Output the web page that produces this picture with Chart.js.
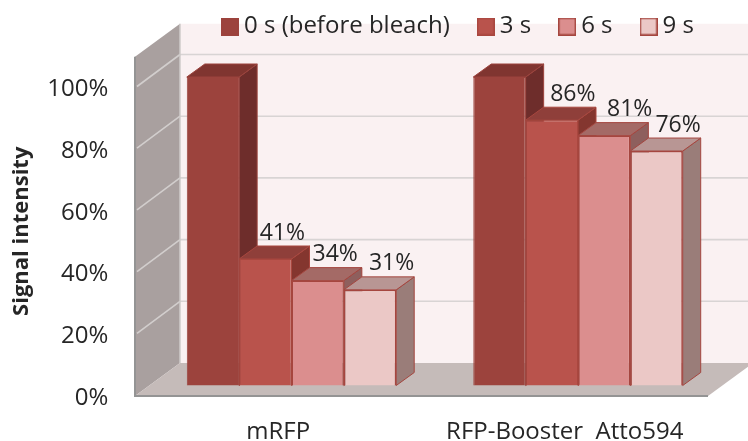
<!DOCTYPE html>
<html>
<head>
<meta charset="utf-8">
<style>html,body{margin:0;padding:0;background:#fff}canvas{display:block}</style>
<script src="https://cdn.jsdelivr.net/npm/chart.js@4/dist/chart.umd.min.js"></script>
</head>
<body>
<canvas id="c" width="748" height="441"></canvas>
<script>
const categories = ['mRFP', 'RFP-Booster  Atto594'];
const seriesNames = ['0 s (before bleach)', '3 s', '6 s', '9 s'];
const series0s = [100, 100];
const series3s = [41, 86];
const series6s = [34, 81];
const series9s = [31, 76];
const seriesValues = [series0s, series3s, series6s, series9s];

const FONT = '"Open Sans", sans-serif';
const INK = '#262626';
const front = ['#9c433d', '#b9534c', '#db8e8e', '#ebc8c6'];
const edge = ['#9c433d', '#a9473f', '#a5463f', '#a5463f'];
const topFace = ['#803530', '#8f3f3a', '#a46a66', '#b89694'];
const sideFace = ['#6e2d2b', '#84362f', '#8e5f5d', '#9a7d79'];
const edgeW = [1, 1, 1.5, 1.5];
// hand placement of each value label relative to its bar's top
const labelNudge = [[null, 17, 17.5, 21.5], [null, 21, 25.5, 21.5]];

const BAR_DX = 18, BAR_DY = -13;
const FRONT_DX = -13.25, FRONT_DY = 10.5, BACK_DX = 31.75, BACK_DY = -22.5;
const WALL_TOP = 110;

function poly(ctx, pts, fill, stroke, lw) {
  ctx.beginPath();
  pts.forEach((p, i) => i ? ctx.lineTo(p[0], p[1]) : ctx.moveTo(p[0], p[1]));
  ctx.closePath();
  if (fill) { ctx.fillStyle = fill; ctx.fill(); }
  if (stroke) { ctx.strokeStyle = stroke; ctx.lineWidth = lw; ctx.stroke(); }
}
function line(ctx, x1, y1, x2, y2, color, lw) {
  ctx.beginPath(); ctx.moveTo(x1, y1); ctx.lineTo(x2, y2);
  ctx.strokeStyle = color; ctx.lineWidth = lw; ctx.stroke();
}
function legendBox(i) {
  const c = document.createElement('canvas');
  c.width = 18; c.height = 18;
  const g = c.getContext('2d');
  g.fillStyle = edge[i]; g.fillRect(0, 0, 18, 18);
  g.fillStyle = front[i]; g.fillRect(1.5, 1.5, 15, 15);
  return c;
}

const room = {
  id: 'room',
  beforeDraw(chart) {
    const { ctx, chartArea: a, scales: { y } } = chart;
    if (chart.legend) { chart.legend.left = 194; chart.legend.right = 900; chart.legend.top = -19.5; }
    const fl = a.left + FRONT_DX, fr = a.right + FRONT_DX;
    const bl = a.left + BACK_DX, br = a.right + BACK_DX;
    const p0 = y.getPixelForValue(0), pt = y.getPixelForValue(WALL_TOP);
    ctx.save();
    // back wall
    poly(ctx, [[bl, pt + BACK_DY], [br, pt + BACK_DY], [br, p0 + BACK_DY], [bl, p0 + BACK_DY]], '#faf1f2');
    // left wall
    poly(ctx, [[fl, pt + FRONT_DY], [bl, pt + BACK_DY], [bl, p0 + BACK_DY], [fl, p0 + FRONT_DY]], '#a9a09f');
    // floor
    poly(ctx, [[fl, p0 + FRONT_DY], [bl, p0 + BACK_DY], [br, p0 + BACK_DY], [fr, p0 + FRONT_DY]], '#c5bbb9');
    // grid lines
    y.ticks.forEach(t => {
      if (t.value === 0) return;
      const p = y.getPixelForValue(t.value);
      line(ctx, bl, p + BACK_DY, br, p + BACK_DY, '#d8d4d4', 1.6);
      line(ctx, fl + 2, p + FRONT_DY - 1, bl, p + BACK_DY, '#d2cecd', 1.6);
    });
    line(ctx, bl, pt + BACK_DY, bl, p0 + BACK_DY, '#cfcbca', 1.5);
    line(ctx, fl, pt + FRONT_DY, fl, p0 + FRONT_DY + 1, '#949494', 2);
    line(ctx, fl, p0 + FRONT_DY, fr, p0 + FRONT_DY, '#949494', 2);
    ctx.restore();
  },
  beforeDatasetsDraw(chart) {
    const { ctx } = chart;
    ctx.save();
    categories.forEach((_, j) => {
      seriesValues.forEach((_, i) => {
        const b = chart.getDatasetMeta(i).data[j];
        const L = b.x - b.width / 2, R = b.x + b.width / 2, T = b.y, B = b.base;
        poly(ctx, [[R, T], [R + BAR_DX, T + BAR_DY], [R + BAR_DX, B + BAR_DY], [R, B]], sideFace[i], edge[i], 1);
        poly(ctx, [[L, T], [L + BAR_DX, T + BAR_DY], [R + BAR_DX, T + BAR_DY], [R, T]], topFace[i], edge[i], 1);
      });
    });
    ctx.restore();
  },
  afterDatasetsDraw(chart) {
    const { ctx } = chart;
    ctx.save();
    ctx.font = '23px ' + FONT;
    ctx.fillStyle = INK;
    ctx.textAlign = 'center';
    ctx.textBaseline = 'middle';
    categories.forEach((_, j) => {
      seriesValues.forEach((vals, i) => {
        const dx = labelNudge[j][i];
        if (dx === null) return;
        const b = chart.getDatasetMeta(i).data[j];
        ctx.fillText(vals[j] + '%', b.x + dx, b.y - 26);
      });
    });
    ctx.restore();
  }
};

new Chart(document.getElementById('c'), {
  type: 'bar',
  plugins: [room],
  data: {
    labels: categories,
    datasets: seriesValues.map((vals, i) => ({
      label: seriesNames[i],
      data: vals,
      backgroundColor: front[i],
      borderColor: edge[i],
      borderWidth: edgeW[i],
      categoryPercentage: 0.731,
      barPercentage: 1,
      clip: false
    }))
  },
  options: {
    responsive: false,
    animation: false,
    devicePixelRatio: 1,
    layout: { padding: { left: 0, right: 26.75, top: 9, bottom: 0 } },
    plugins: {
      tooltip: { enabled: false },
      legend: {
        position: 'top',
        align: 'start',
        maxHeight: 76,
        labels: {
          usePointStyle: true,
          pointStyleWidth: 4,
          padding: 34,
          color: INK,
          font: { family: FONT, size: 24 },
          generateLabels: () => seriesNames.map((n, i) => ({
            text: n, pointStyle: legendBox(i), datasetIndex: i, fontColor: INK, lineWidth: 0
          }))
        }
      }
    },
    scales: {
      x: {
        grid: { display: false, drawTicks: false },
        border: { display: false },
        afterFit(s) { s.height = 55.5; },
        ticks: {
          color: INK, padding: 32, labelOffset: -13.25, maxRotation: 0, autoSkip: false,
          font: { family: FONT, size: 24 }
        }
      },
      y: {
        min: 0, max: 100,
        grid: { display: false, drawTicks: false },
        border: { display: false },
        afterFit(s) { s.width = 148.25; },
        title: {
          display: true, text: 'Signal intensity', color: INK,
          font: { family: FONT, size: 22, weight: 'bold' },
          padding: { top: 9, bottom: 0 }
        },
        ticks: {
          stepSize: 20, color: INK, padding: 40, labelOffset: 12.5,
          font: { family: FONT, size: 24 },
          callback: v => v + '%'
        }
      }
    }
  }
});
</script>
</body>
</html>
